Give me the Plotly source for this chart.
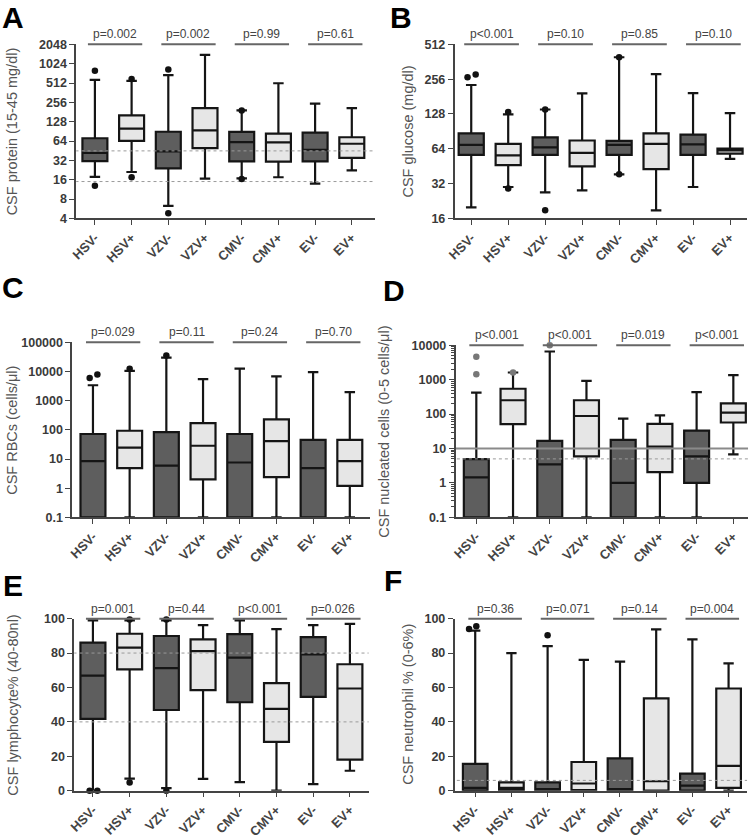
import plotly.graph_objects as go
import math

W, H = 750, 840

categories = ["HSV-", "HSV+", "VZV-", "VZV+", "CMV-", "CMV+", "EV-", "EV+"]

# ---------- Panel A: CSF protein ----------
A_q1 = [31.2, 64.4, 24.1, 49.8, 31.0, 30.6, 31.0, 35.0]
A_med = [41.7, 99.6, 44.3, 93.7, 61.4, 61.0, 46.9, 58.1]
A_q3 = [70.8, 161, 89.4, 208, 89.0, 83.4, 86.4, 73.4]
A_lo = [17.7, 21.1, 6.25, 16.7, 16.8, 17.5, 13.9, 22.4]
A_hi = [572, 552, 681, 1410, 192, 508, 245, 208]
A_out = [(0, 793, 0), (0, 12.9, 0), (1, 590, 0), (1, 17.5, 0), (2, 832, 0), (2, 4.8, 0), (4, 192, 0), (4, 16.5, 0)]
A_p = ["p=0.002", "p=0.002", "p=0.99", "p=0.61"]
A_ticks = [4, 8, 16, 32, 64, 128, 256, 512, 1024, 2048]
A_ref = [45, 15]

# ---------- Panel B: CSF glucose ----------
B_q1 = [56.6, 46.3, 56.6, 45.1, 56.6, 42.7, 56.6, 58.2]
B_med = [69.3, 56.2, 65.8, 58.9, 69.3, 70.6, 69.8, 61.9]
B_q3 = [86.9, 70.6, 80.4, 75.5, 75.0, 86.9, 84.8, 64.4]
B_lo = [19.9, 29.9, 26.9, 28.0, 38.5, 18.8, 29.9, 52.4]
B_hi = [228, 127, 140, 193, 396, 283, 194, 130]
B_out = [(0, 266, -0.1), (0, 281, 0.12), (1, 133, 0), (1, 29, 0), (2, 140, 0), (2, 18.8, 0), (4, 396, 0), (4, 38.5, 0)]
B_p = ["p<0.001", "p=0.10", "p=0.85", "p=0.10"]
B_ticks = [16, 32, 64, 128, 256, 512]

# ---------- Panel C: CSF RBCs ----------
C_q1 = [0.1, 4.9, 0.1, 2.0, 0.1, 2.4, 0.1, 1.2]
C_med = [8.5, 24.5, 5.9, 28.5, 7.6, 41, 4.9, 8.5]
C_q3 = [72, 93, 84, 170, 72, 230, 45.5, 45.5]
C_lo = [0.1, 0.1, 0.1, 0.1, 0.1, 0.1, 0.1, 0.1]
C_hi = [3380, 10500, 29700, 5500, 12600, 6800, 9500, 1960]
C_out = [(0, 6000, -0.09), (0, 7900, 0.12), (1, 12500, 0), (2, 35000, 0)]
C_p = ["p=0.029", "p=0.11", "p=0.24", "p=0.70"]
C_ticks = [0.1, 1, 10, 100, 1000, 10000, 100000]
C_ticktext = ["0.1", "1", "10", "100", "1000", "10000", "100000"]

# ---------- Panel D: CSF nucleated cells ----------
D_q1 = [0.1, 51, 0.1, 5.9, 0.1, 2.05, 1.0, 57]
D_med = [1.45, 253, 3.47, 88, 1.0, 11.3, 5.9, 110]
D_q3 = [4.9, 545, 16.7, 253, 17.9, 52, 33, 204]
D_lo = [0.1, 0.1, 0.1, 0.1, 0.1, 0.1, 0.1, 6.8]
D_hi = [419, 1620, 6600, 920, 74, 92, 437, 1360]
D_out = [(0, 1450, 0), (0, 4650, 0), (1, 1620, 0), (2, 10000, 0)]
D_p = ["p<0.001", "p<0.001", "p=0.019", "p<0.001"]
D_ticks = [0.1, 1, 10, 100, 1000, 10000]
D_ticktext = ["0.1", "1", "10", "100", "1000", "10000"]
D_minor = [m * 10 ** e for e in range(-1, 4) for m in range(2, 10)]
D_ref_solid = [10]
D_ref_dot = [5]

# ---------- Panel E: CSF lymphocyte % ----------
E_q1 = [41.7, 70.5, 46.9, 58.5, 51.4, 28.4, 54.5, 18.1]
E_med = [66.9, 83.2, 71.2, 81.1, 77.3, 47.6, 79.2, 59.4]
E_q3 = [86.1, 91.2, 89.9, 88.0, 91.0, 62.5, 89.3, 73.5]
E_lo = [0, 7.0, 1.5, 6.9, 5.0, 0, 3.8, 11.6]
E_hi = [99, 99, 99, 96.2, 99, 93.9, 96.2, 97]
E_out = [(0, 0, -0.09), (0, 0, 0.12), (1, 99.5, 0), (1, 4.8, 0), (2, 99.5, 0), (2, 0, 0)]
E_p = ["p=0.001", "p=0.44", "p<0.001", "p=0.026"]
E_ref = [80, 40]

# ---------- Panel F: CSF neutrophil % ----------
F_q1 = [0, 0.4, 0.4, 0.4, 0.4, 0, 0, 1.7]
F_med = [1.7, 1.7, 1.0, 4.2, 1.0, 5.5, 3.0, 14.4]
F_q3 = [15.6, 4.9, 4.9, 16.7, 18.8, 53.7, 9.9, 59.4]
F_lo = [0, 0, 0, 0, 0, 0, 0, 0]
F_hi = [93, 80, 84, 76, 75, 93.7, 88, 74]
F_out = [(0, 94.0, -0.17), (0, 95.5, 0.03), (2, 90.3, 0)]
F_p = ["p=0.36", "p=0.071", "p=0.14", "p=0.004"]
F_ref = [6]

lin_ticks = [0, 20, 40, 60, 80, 100]

DARK = "#5e5e5e"
LIGHT = "#e6e6e6"
AXC = "#444444"
FONT = "Liberation Sans, Arial, sans-serif"

panels = [
    dict(name="A", q1=A_q1, med=A_med, q3=A_q3, lo=A_lo, hi=A_hi, out=A_out, p=A_p,
         px=(68, 370, 38, 215), xr=[-0.51, 7.62], ytype="log",
         yr=[math.log10(4), math.log10(2048)], tv=A_ticks, tt=[str(t) for t in A_ticks],
         title="CSF protein (15-45 mg/dl)", tx=3, letter=(4, 11), dots=A_ref, solid=[],
         outc="#111111"),
    dict(name="B", q1=B_q1, med=B_med, q3=B_q3, lo=B_lo, hi=B_hi, out=B_out, p=B_p,
         px=(451, 747, 38, 215), xr=[-0.45, 7.46], ytype="log",
         yr=[math.log10(16), math.log10(512)], tv=B_ticks, tt=[str(t) for t in B_ticks],
         title="CSF glucose (mg/dl)", tx=404, letter=(397, 11), dots=[], solid=[],
         outc="#111111"),
    dict(name="C", q1=C_q1, med=C_med, q3=C_q3, lo=C_lo, hi=C_hi, out=C_out, p=C_p,
         px=(64, 365, 341, 519), xr=[-0.565, 7.54], ytype="log",
         yr=[-1, 5], tv=C_ticks, tt=C_ticktext,
         title="CSF RBCs (cells/\u03bcl)", tx=3, letter=(4, 285), dots=[], solid=[],
         outc="#111111"),
    dict(name="D", q1=D_q1, med=D_med, q3=D_q3, lo=D_lo, hi=D_hi, out=D_out, p=D_p,
         px=(452, 748, 344, 519), xr=[-0.565, 7.4], ytype="log",
         yr=[-1, 4], tv=D_ticks, tt=D_ticktext,
         title="CSF nucleated cells (0-5 cells/\u03bcl)", tx=380, letter=(390, 288),
         dots=D_ref_dot, solid=D_ref_solid, outc="#777777"),
    dict(name="E", q1=E_q1, med=E_med, q3=E_q3, lo=E_lo, hi=E_hi, out=E_out, p=E_p,
         px=(66, 364, 622, 797), xr=[-0.51, 7.51], ytype="linear",
         yr=[0, 100], tv=lin_ticks, tt=[str(t) for t in lin_ticks],
         title="CSF lymphocyte% (40-80nl)", tx=4, letter=(4, 588), dots=E_ref, solid=[],
         outc="#111111"),
    dict(name="F", q1=F_q1, med=F_med, q3=F_q3, lo=F_lo, hi=F_hi, out=F_out, p=F_p,
         px=(451, 747, 622, 797), xr=[-0.57, 7.51], ytype="linear",
         yr=[0, 100], tv=lin_ticks, tt=[str(t) for t in lin_ticks],
         title="CSF neutrophil % (0-6%)", tx=404, letter=(389, 583), dots=F_ref, solid=[],
         outc="#111111"),
]

fig = go.Figure()
layout = dict(width=W, height=H, margin=dict(l=0, r=0, t=0, b=0),
              paper_bgcolor="white", plot_bgcolor="white", showlegend=False,
              font=dict(family=FONT, color="#333333"), boxmode="overlay",
              annotations=[], shapes=[])

for k, P in enumerate(panels):
    n = "" if k == 0 else str(k + 1)
    xa, ya = "x" + n, "y" + n
    x0, x1, yt, yb = P["px"]
    for v in P["dots"]:
        fig.add_trace(go.Scatter(x=[-2, 10], y=[v, v], mode="lines", xaxis=xa, yaxis=ya,
                                 line=dict(color="#9a9a9a", width=1, dash="dot"), hoverinfo="skip"))
    for v in P["solid"]:
        fig.add_trace(go.Scatter(x=[-2, 10], y=[v, v], mode="lines", xaxis=xa, yaxis=ya,
                                 line=dict(color="#8a8a8a", width=2), hoverinfo="skip"))
    for i, c in enumerate(categories):
        fig.add_trace(go.Box(
            x=[i], q1=[P["q1"][i]], median=[P["med"][i]], q3=[P["q3"][i]],
            lowerfence=[P["lo"][i]], upperfence=[P["hi"][i]],
            xaxis=xa, yaxis=ya, width=0.68, whiskerwidth=0.42,
            fillcolor=DARK if i % 2 == 0 else LIGHT,
            line=dict(color="#151515", width=2.2), boxpoints=False, name=c))
    ox = [o[0] + o[2] for o in P["out"]]
    oy = [o[1] for o in P["out"]]
    fig.add_trace(go.Scatter(x=ox, y=oy, mode="markers", xaxis=xa, yaxis=ya, cliponaxis=False,
                             marker=dict(color=P["outc"], size=6.5)))

    xdom = [x0 / W, x1 / W]
    ydom = [1 - yb / H, 1 - yt / H]
    layout["xaxis" + n] = dict(
        domain=xdom, range=P["xr"], anchor=ya, tickmode="array",
        tickvals=list(range(len(categories))), ticktext=categories, tickangle=-45,
        showline=True, linecolor=AXC, linewidth=1.5, ticks="outside", ticklen=5,
        tickcolor=AXC, tickwidth=1.2, showgrid=False, zeroline=False,
        tickfont=dict(size=13, color="#444444", family=FONT, weight="bold"))
    yax = dict(
        domain=ydom, range=P["yr"], type=P["ytype"], anchor=xa, tickmode="array",
        tickvals=P["tv"], ticktext=P["tt"], showline=True, linecolor=AXC, linewidth=1.5,
        ticks="outside", ticklen=5, tickcolor=AXC, tickwidth=1.2, showgrid=False,
        zeroline=False, tickfont=dict(size=12.5, color="#3a3a3a", family=FONT, weight="bold"))
    if P["name"] == "D":
        yax["minor"] = dict(tickmode="array", tickvals=D_minor, ticks="outside", ticklen=2.5,
                            tickcolor=AXC, tickwidth=1, showgrid=False)
    layout["yaxis" + n] = yax

    for j, txt in enumerate(P["p"]):
        layout["shapes"].append(dict(type="line", xref=xa, yref=ya + " domain",
                                     x0=2 * j - 0.19, x1=2 * j + 1.29, y0=1, y1=1,
                                     line=dict(color="#666666", width=2)))
        layout["annotations"].append(dict(xref=xa, yref=ya + " domain", x=2 * j + 0.55, y=1,
                                          yanchor="bottom", yshift=1, text=txt, showarrow=False,
                                          font=dict(size=12, color="#444444", family=FONT)))
    layout["annotations"].append(dict(xref="paper", yref="paper", x=P["tx"] / W,
                                      y=1 - (yt + yb) / 2 / H, text=P["title"], textangle=-90,
                                      showarrow=False, xanchor="center", yanchor="middle",
                                      font=dict(size=14.5, color="#555555", family=FONT)))
    lx, ly = P["letter"]
    layout["annotations"].append(dict(xref="paper", yref="paper", x=lx / W, y=1 - ly / H,
                                      xanchor="center", yanchor="middle",
                                      text="<b>" + P["name"] + "</b>", showarrow=False,
                                      font=dict(size=30, color="#000000", family=FONT)))

fig.update_layout(**layout)
fig.write_html("out.html", config={"displayModeBar": False},
               post_script="document.body.style.margin='0';document.body.style.overflow='hidden';")
